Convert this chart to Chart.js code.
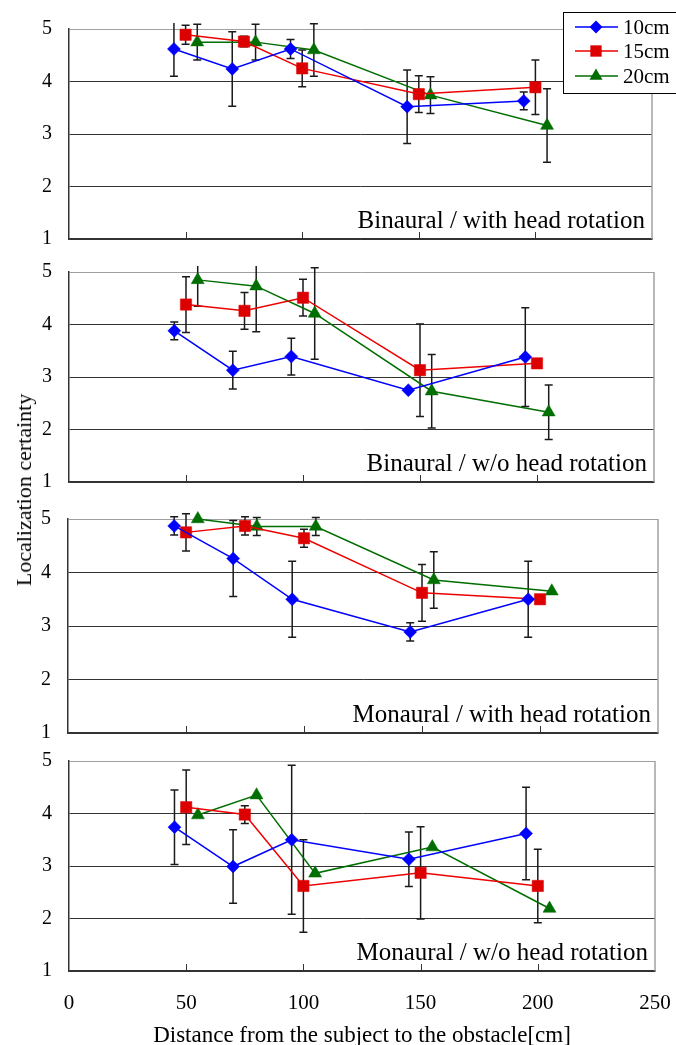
<!DOCTYPE html>
<html>
<head>
<meta charset="utf-8">
<title>Localization certainty vs distance</title>
<script src="https://cdn.jsdelivr.net/npm/chart.js@4.4.0/dist/chart.umd.min.js"></script>
<style>
  html, body { margin: 0; padding: 0; background: #fff; width: 676px; height: 1045px; overflow: hidden; }
  canvas.panel { position: absolute; left: 0; }
  #yTitle {
    position: absolute; left: 24px; top: 490px;
    transform: translate(-50%, -50%) rotate(-90deg);
    font: 22px 'Liberation Serif', 'DejaVu Serif', serif; color: #000; white-space: nowrap;
  }
</style>
</head>
<body>
<canvas id="panel0" class="panel"></canvas>
<canvas id="panel1" class="panel"></canvas>
<canvas id="panel2" class="panel"></canvas>
<canvas id="panel3" class="panel"></canvas>
<div id="yTitle">Localization certainty</div>

<script>
// Localization certainty – four stacked panels
// ------------------------------------------------

// Data ---------------------------------------------------------------------
const seriesLabels = ['10cm', '15cm', '20cm'];
const distances10 = [45, 70, 95, 145, 195];
const distances15 = [50, 75, 100, 150, 200];
const distances20 = [55, 80, 105, 155, 205];
const xTicks = [0, 50, 100, 150, 200, 250];
const yTicks = [1, 2, 3, 4, 5];

const panelTitles = [
  'Binaural / with head rotation',
  'Binaural / w/o head rotation',
  'Monaural / with head rotation',
  'Monaural / w/o head rotation',
];

// Binaural / with head rotation
const binRot10 = [4.62, 4.24, 4.62, 3.52, 3.63];
const binRot10Err = [0.52, 0.71, 0.18, 0.70, 0.17];
const binRot15 = [4.89, 4.76, 4.25, 3.76, 3.89];
const binRot15Err = [0.18, 0.10, 0.35, 0.35, 0.52];
const binRot20 = [4.75, 4.75, 4.60, 3.74, 3.16];
const binRot20Err = [0.34, 0.34, 0.50, 0.35, 0.70];

// Binaural / w/o head rotation
const binNo10 = [3.88, 3.13, 3.39, 2.75, 3.38];
const binNo10Err = [0.17, 0.36, 0.35, 0.00, 0.94];
const binNo15 = [4.38, 4.26, 4.51, 3.13, 3.26];
const binNo15Err = [0.53, 0.35, 0.35, 0.88, 0.00];
const binNo20 = [4.85, 4.73, 4.21, 2.73, 2.33];
const binNo20Err = [0.50, 0.87, 0.87, 0.70, 0.52];

// Monaural / with head rotation
const monRot10 = [4.87, 4.26, 3.50, 2.89, 3.50];
const monRot10Err = [0.17, 0.71, 0.71, 0.17, 0.71];
const monRot15 = [4.75, 4.87, 4.64, 3.62, 3.50];
const monRot15Err = [0.35, 0.17, 0.17, 0.53, 0.00];
const monRot20 = [5.00, 4.86, 4.86, 3.86, 3.65];
const monRot20Err = [0.00, 0.17, 0.17, 0.53, 0.00];

// Monaural / w/o head rotation
const monNo10 = [3.74, 2.99, 3.50, 3.13, 3.62];
const monNo10Err = [0.71, 0.70, 1.42, 0.52, 0.88];
const monNo15 = [4.12, 3.98, 2.62, 2.87, 2.62];
const monNo15Err = [0.71, 0.17, 0.88, 0.88, 0.70];
const monNo20 = [3.97, 4.35, 2.86, 3.36, 2.19];
const monNo20Err = [0.00, 0.00, 0.00, 0.00, 0.00];

const panelData = [
  [[binRot10, binRot10Err], [binRot15, binRot15Err], [binRot20, binRot20Err]],
  [[binNo10, binNo10Err], [binNo15, binNo15Err], [binNo20, binNo20Err]],
  [[monRot10, monRot10Err], [monRot15, monRot15Err], [monRot20, monRot20Err]],
  [[monNo10, monNo10Err], [monNo15, monNo15Err], [monNo20, monNo20Err]],
];
const seriesX = [distances10, distances15, distances20];

// Layout / styling -----------------------------------------------------------
const PAGE_W = 676;
const SERIF = "'Liberation Serif', 'DejaVu Serif', serif";
const panelBoxes = [
  { left: 69, right: 652, top: 29, bottom: 239 },
  { left: 69, right: 654, top: 272, bottom: 482 },
  { left: 68, right: 658, top: 519, bottom: 733 },
  { left: 69, right: 655, top: 761, bottom: 971 },
];
const seriesStyles = [
  { line: '#0000ff', fill: '#0000ff', point: 'rectRot', radius: 6.5 },
  { line: '#ee0000', fill: '#dd0000', point: 'rect', radius: 8 },
  { line: '#006e00', fill: '#006e00', point: 'triangle', radius: 7.5 },
];

// -------------------------------------------------------------------------
// Plugin: panel frame, inward ticks, error bars and panel caption
// -------------------------------------------------------------------------
const panelFramePlugin = {
  id: 'panelFrame',
  beforeDatasetsDraw(chart, args, opts) {
    const { ctx, chartArea: a, scales } = chart;
    const xs = scales.x;
    const ys = scales.y;
    ctx.save();

    // right border (light grey like the top border)
    ctx.strokeStyle = '#a0a0a0';
    ctx.lineWidth = 1.5;
    ctx.beginPath();
    ctx.moveTo(a.right, a.top);
    ctx.lineTo(a.right, a.bottom);
    ctx.stroke();

    // small ticks pointing into the plot
    ctx.strokeStyle = '#333';
    ctx.lineWidth = 1;
    xTicks.slice(1, -1).forEach((v) => {
      const px = Math.round(xs.getPixelForValue(v)) + 0.5;
      ctx.beginPath();
      ctx.moveTo(px, a.bottom);
      ctx.lineTo(px, a.bottom - 7);
      ctx.stroke();
    });

    // caption
    ctx.fillStyle = '#000';
    ctx.font = '25px ' + SERIF;
    ctx.textAlign = 'right';
    ctx.textBaseline = 'alphabetic';
    ctx.fillText(opts.caption, a.right - 7, a.bottom - 11);

    // error bars (clipped a little above the plot like the original)
    ctx.beginPath();
    ctx.rect(a.left - 20, a.top - 6, a.right - a.left + 40, a.bottom - a.top + 40);
    ctx.clip();
    ctx.strokeStyle = '#1a1a1a';
    ctx.lineWidth = 1.5;
    chart.data.datasets.forEach((ds) => {
      ds.data.forEach((pt, i) => {
        const e = ds.errors[i];
        if (!e) return;
        const px = xs.getPixelForValue(pt.x);
        const yTop = ys.getPixelForValue(pt.y + e);
        const yBot = ys.getPixelForValue(pt.y - e);
        ctx.beginPath();
        ctx.moveTo(px, yTop);
        ctx.lineTo(px, yBot);
        ctx.moveTo(px - 4, yTop);
        ctx.lineTo(px + 4, yTop);
        ctx.moveTo(px - 4, yBot);
        ctx.lineTo(px + 4, yBot);
        ctx.stroke();
      });
    });
    ctx.restore();
  },
};

// Legend drawn in the top-right corner of the first panel
function drawMarker(ctx, style, x, y) {
  const r = style.radius;
  ctx.fillStyle = style.fill;
  ctx.beginPath();
  if (style.point === 'rectRot') {
    ctx.moveTo(x, y - r); ctx.lineTo(x + r, y); ctx.lineTo(x, y + r); ctx.lineTo(x - r, y);
  } else if (style.point === 'rect') {
    const h = r / Math.SQRT2;
    ctx.rect(x - h, y - h, 2 * h, 2 * h);
  } else {
    const h = r * Math.sqrt(3) / 2;
    ctx.moveTo(x, y - r); ctx.lineTo(x + h, y + r / 2); ctx.lineTo(x - h, y + r / 2);
  }
  ctx.closePath();
  ctx.fill();
}

const boxLegendPlugin = {
  id: 'boxLegend',
  afterDraw(chart, args, opts) {
    if (!opts.show) return;
    const { ctx } = chart;
    ctx.save();
    ctx.fillStyle = '#fff';
    ctx.fillRect(563, 12, 120, 81);
    ctx.strokeStyle = '#000';
    ctx.lineWidth = 1;
    ctx.strokeRect(563.5, 12.5, 120, 81);
    const rows = [27, 51, 76];
    chart.data.datasets.forEach((ds, i) => {
      const st = seriesStyles[i];
      const y = rows[i];
      ctx.strokeStyle = st.line;
      ctx.lineWidth = 1.5;
      ctx.beginPath();
      ctx.moveTo(575, y);
      ctx.lineTo(618, y);
      ctx.stroke();
      drawMarker(ctx, st, 596, y);
      ctx.fillStyle = '#000';
      ctx.font = '21px ' + SERIF;
      ctx.textAlign = 'left';
      ctx.textBaseline = 'middle';
      ctx.fillText(ds.label, 623, y + 1);
    });
    ctx.restore();
  },
};

// -------------------------------------------------------------------------
// Build one panel
// -------------------------------------------------------------------------
function buildPanel(idx) {
  const box = panelBoxes[idx];
  const isLast = idx === panelBoxes.length - 1;
  const canvasTop = idx === 0 ? 0 : box.top - 15;
  const canvasBottom = isLast ? 1060 : box.bottom + 15;
  const canvas = document.getElementById('panel' + idx);
  canvas.width = PAGE_W;
  canvas.height = canvasBottom - canvasTop;
  canvas.style.top = canvasTop + 'px';

  const datasets = panelData[idx].map(([vals, errs], s) => {
    const st = seriesStyles[s];
    return {
      label: seriesLabels[s],
      data: seriesX[s].map((x, i) => ({ x, y: vals[i] })),
      errors: errs,
      showLine: true,
      borderColor: st.line,
      backgroundColor: st.fill,
      borderWidth: 1.5,
      pointStyle: st.point,
      pointRadius: st.radius,
      pointHoverRadius: st.radius,
      pointBorderWidth: 0.5,
      pointBorderColor: st.fill,
      pointBackgroundColor: st.fill,
      tension: 0,
      clip: false,
    };
  });

  return new Chart(canvas.getContext('2d'), {
    type: 'scatter',
    data: { datasets },
    options: {
      responsive: false,
      animation: false,
      events: [],
      layout: {
        padding: {
          left: 0,
          right: PAGE_W - box.right,
          top: box.top - canvasTop,
          bottom: isLast ? 0 : 15,
        },
      },
      plugins: {
        legend: { display: false },
        tooltip: { enabled: false },
        panelFrame: { caption: panelTitles[idx] },
        boxLegend: { show: idx === 0 },
      },
      scales: {
        x: {
          type: 'linear',
          min: xTicks[0],
          max: xTicks[xTicks.length - 1],
          afterBuildTicks: (scale) => { scale.ticks = xTicks.map((v) => ({ value: v })); },
          afterFit: (scale) => {
            scale.height = isLast ? canvasBottom - box.bottom : 0;
            scale.paddingLeft = 0;
            scale.paddingRight = 0;
          },
          grid: { display: false, drawTicks: false },
          border: { display: true, color: '#333', width: 1.5 },
          ticks: {
            display: isLast,
            padding: 20,
            color: '#000',
            font: { family: SERIF, size: 21 },
            maxRotation: 0,
          },
          title: {
            display: isLast,
            text: 'Distance from the subject to the obstacle[cm]',
            color: '#000',
            font: { family: SERIF, size: 23 },
            padding: { top: 0, bottom: 10 },
          },
        },
        y: {
          type: 'linear',
          min: yTicks[0],
          max: yTicks[yTicks.length - 1],
          afterBuildTicks: (scale) => { scale.ticks = yTicks.map((v) => ({ value: v })); },
          afterFit: (scale) => {
            // fixed axis width; label overflow must not push the plot area
            scale.width = box.left;
            scale.paddingTop = 0;
            scale.paddingBottom = 0;
          },
          grid: {
            drawTicks: false,
            lineWidth: 1,
            color: (c) => (c.tick && c.tick.value === 5 ? '#a0a0a0' : '#333'),
          },
          border: { display: true, color: '#333', width: 1.5 },
          ticks: {
            padding: 17,
            color: '#000',
            font: { family: SERIF, size: 20 },
          },
        },
      },
    },
    plugins: [panelFramePlugin, boxLegendPlugin],
  });
}

window.addEventListener('DOMContentLoaded', () => {
  panelBoxes.forEach((_, i) => buildPanel(i));
});
</script>
</body>
</html>
